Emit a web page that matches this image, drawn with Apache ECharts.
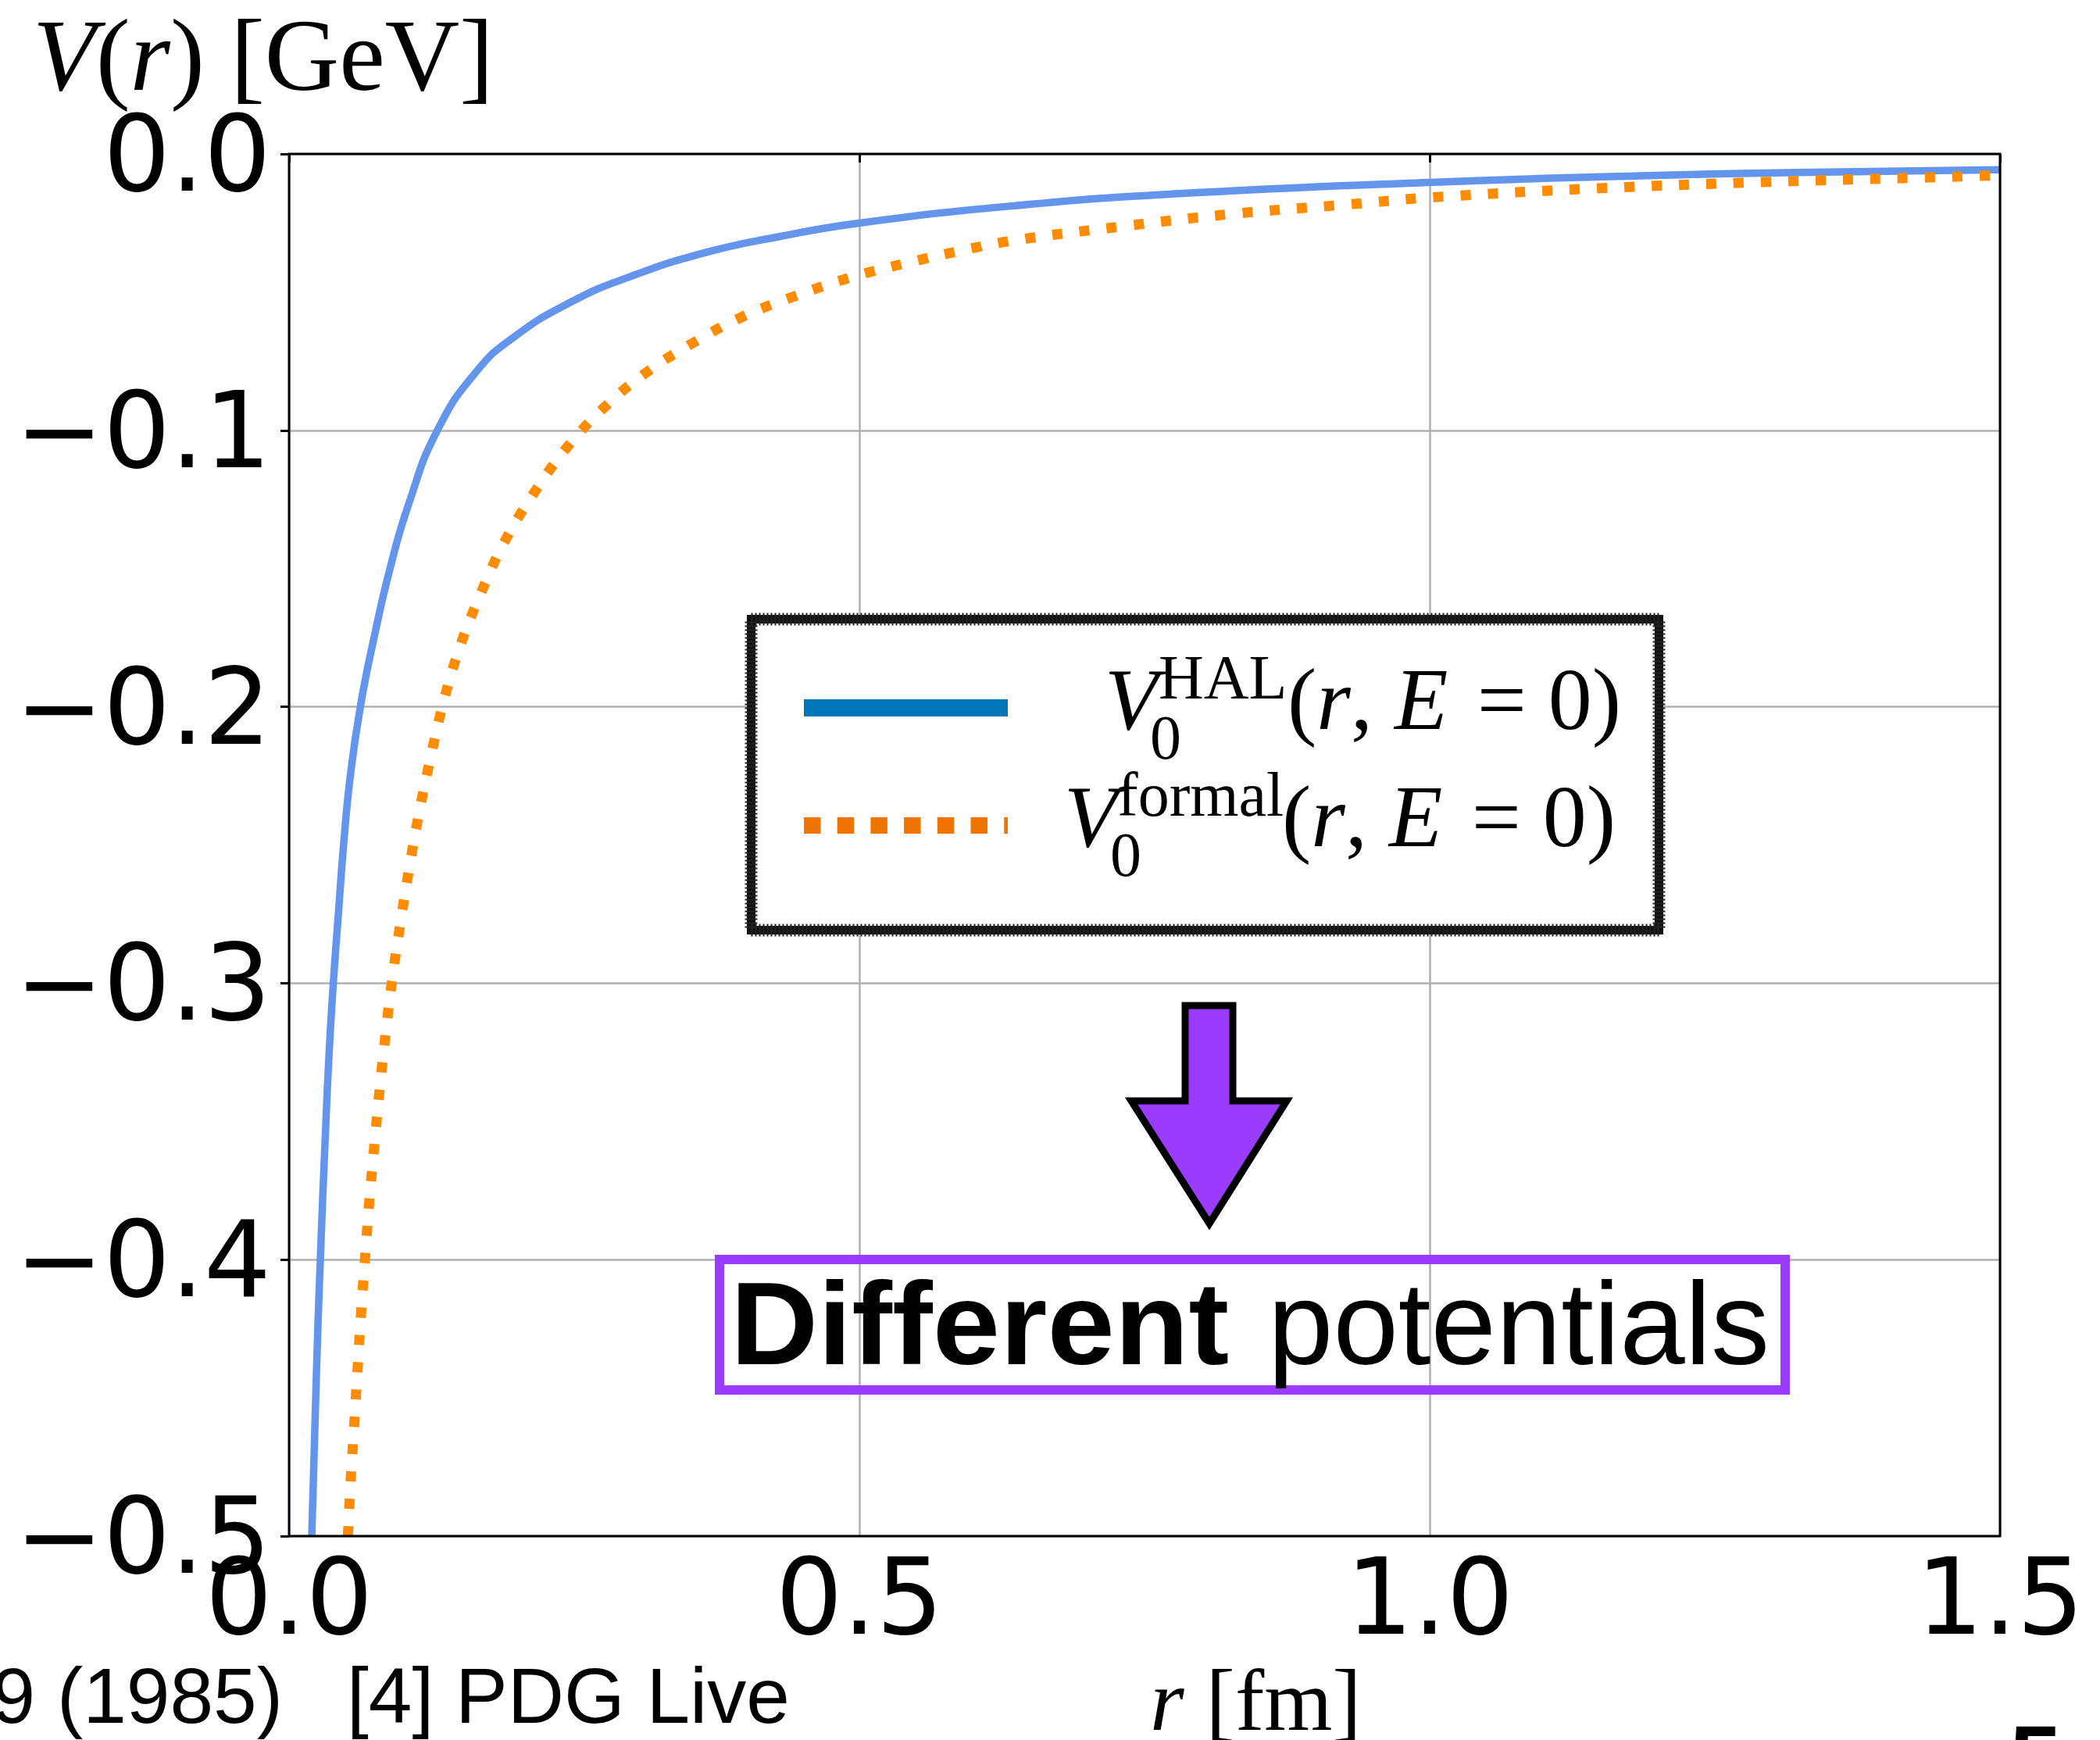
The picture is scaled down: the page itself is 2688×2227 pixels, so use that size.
<!DOCTYPE html>
<html>
<head>
<meta charset="utf-8">
<script src="https://cdn.jsdelivr.net/npm/echarts@6.0.0/dist/echarts.min.js"></script>
<style>
  html, body { margin: 0; padding: 0; background: #fff; }
  #chart { width: 2688px; height: 2227px; }
</style>
</head>
<body>
<div id="chart"></div>
<script>
// V0^HAL(r, E=0)
var hal_r = [0.0199, 0.0240, 0.0274, 0.0320, 0.0354, 0.0388, 0.0434, 0.0480, 0.0537, 0.0625,
    0.0745, 0.0885, 0.1050, 0.1300, 0.1645, 0.1977, 0.2475, 0.2970, 0.3640, 0.4300,
    0.5000, 0.6370, 0.7740, 1.0000, 1.1850, 1.3220, 1.5000];
var hal_v = [-0.500, -0.441, -0.400, -0.353, -0.323, -0.300, -0.274, -0.249, -0.225, -0.200,
    -0.175, -0.150, -0.1265, -0.100, -0.0786, -0.0661, -0.0535, -0.0447, -0.0358, -0.0299,
    -0.0250, -0.0187, -0.0145, -0.0103, -0.0079, -0.0067, -0.0057];

// V0^formal(r, E=0)
var formal_r = [0.0516, 0.0540, 0.0571, 0.0600, 0.0632, 0.0667, 0.0703, 0.0749, 0.0795, 0.0847,
    0.0906, 0.0977, 0.1055, 0.1144, 0.1244, 0.1358, 0.1500, 0.1670, 0.1880, 0.2126,
    0.2420, 0.2748, 0.3120, 0.3540, 0.3970, 0.4418, 0.4930, 0.5410, 0.5890, 0.6370,
    0.7330, 0.8290, 0.9280, 1.0020, 1.1500, 1.2980, 1.4450, 1.5000];
var formal_v = [-0.500, -0.480, -0.460, -0.440, -0.419, -0.399, -0.379, -0.358, -0.338, -0.318,
    -0.298, -0.278, -0.258, -0.2375, -0.2177, -0.1976, -0.178, -0.160, -0.141, -0.124,
    -0.107, -0.0923, -0.0794, -0.0684, -0.059, -0.0517, -0.0446, -0.0395, -0.035, -0.0312,
    -0.0261, -0.0216, -0.0183, -0.0157, -0.0124, -0.0101, -0.0084, -0.0077];

var x_ticks = [0, 1.5, 0.5];     // min, max, interval
var y_ticks = [-0.5, 0, 0.1];

function pairs(xs, ys) {
    var out = [];
    for (var i = 0; i < xs.length; i++) {
        out.push([xs[i], ys[i]]);
    }
    return out;
}

// matplotlib style tick text, with a real minus sign
var tickText = function (v) {
    if (Math.abs(v) < 1e-9) {
        return '0.0';
    }
    return v.toFixed(1).replace('-', '\u2212');
};

var serif = '"Liberation Serif", "Times New Roman", serif';
var sans = '"Liberation Sans", Arial, sans-serif';
var purple = '#9a3bfe';

function txt(x, y, text, font, extra) {
    var el = {
        type: 'text', x: x, y: y, z: 20,
        style: {
            text: text, font: font, fill: '#000',
            textAlign: 'left', align: 'left',
            textVerticalAlign: 'middle', verticalAlign: 'middle'
        }
    };
    if (extra) {
        for (var k in extra) {
            if (k === 'scaleX') {
                el.scaleX = extra[k];
            } else {
                el.style[k] = extra[k];
            }
        }
    }
    return el;
}

var axisCommon = {
    type: 'value',
    axisLine: {show: false},
    axisTick: {show: true, inside: false, length: 11, lineStyle: {color: '#000', width: 3}},
    axisLabel: {
        color: '#000',
        fontFamily: 'DejaVu Sans',
        fontSize: 135,
        showMinLabel: true,
        showMaxLabel: true,
        formatter: tickText
    },
    splitLine: {show: true, lineStyle: {color: '#b0b0b0', width: 2.5}}
};

var option = {
    animation: false,
    backgroundColor: '#fff',
    grid: {left: 370, top: 197, width: 2190, height: 1769, show: false},
    xAxis: echarts.util.merge({
        min: x_ticks[0], max: x_ticks[1], interval: x_ticks[2],
        axisLabel: {margin: 22}
    }, axisCommon),
    yAxis: echarts.util.merge({
        min: y_ticks[0], max: y_ticks[1], interval: y_ticks[2],
        axisLabel: {margin: 23, verticalAlign: 'top', lineHeight: 24}
    }, axisCommon),
    series: [
        {
            name: 'HAL',
            type: 'line',
            data: pairs(hal_r, hal_v),
            showSymbol: false,
            smooth: 0.5,
            itemStyle: {color: '#6495ED'},
            lineStyle: {color: '#6495ED', width: 9.5}
        },
        {
            name: 'formal',
            type: 'line',
            data: pairs(formal_r, formal_v),
            showSymbol: false,
            smooth: 0.4,
            itemStyle: {color: '#FF8C00'},
            lineStyle: {color: '#FF8C00', width: 13, type: [13, 22], cap: 'butt'}
        }
    ],
    graphic: [
        // plot frame
        {
            type: 'rect', z: 30,
            shape: {x: 370, y: 197, width: 2190, height: 1769},
            style: {fill: 'none', stroke: '#000', lineWidth: 3}
        },
        // axis titles
        txt(42, 80, '{i|V}({i|r}) [GeV]', '132px ' + serif, {
            rich: {i: {font: 'italic 132px ' + serif}}
        }),
        txt(1472, 2185, '{i|r} [fm]', '112px ' + serif, {
            rich: {i: {font: 'italic 112px ' + serif}}
        }),
        // slide text cut by the frame
        txt(362, 2177, '9 (1985)', '100px ' + sans, {textAlign: 'right', align: 'right'}),
        txt(444, 2177, '[4] PDG Live', '100px ' + sans),
        txt(2572, 2260, '5', 'bold 120px ' + sans),

        // legend box
        {
            type: 'rect', z: 15,
            shape: {x: 961.5, y: 792.5, width: 1162, height: 398},
            style: {fill: '#fff', stroke: '#111', lineWidth: 11}
        },
        {
            type: 'rect', z: 16,
            shape: {x: 961.5, y: 792.5, width: 1162, height: 398},
            style: {fill: 'none', stroke: '#222', lineWidth: 16, lineDash: [2, 3]}
        },
        {
            type: 'line', z: 20,
            shape: {x1: 1029, y1: 906, x2: 1290, y2: 906},
            style: {stroke: '#0076b9', lineWidth: 22, lineCap: 'butt'}
        },
        {
            type: 'line', z: 20,
            shape: {x1: 1029, y1: 1056.5, x2: 1290, y2: 1056.5},
            style: {stroke: '#f07500', lineWidth: 21, lineCap: 'butt', lineDash: [21.5, 21.2]}
        },
        txt(1414, 904, 'V', 'italic 112px ' + serif),
        txt(1483, 873, 'HAL', '80px ' + serif),
        txt(1472, 950, '0', '80px ' + serif),
        txt(1648, 904, '({i|r}, {i|E} \u200a= 0)', '112px ' + serif, {
            rich: {i: {font: 'italic 112px ' + serif}}
        }),
        txt(1362, 1054, 'V', 'italic 112px ' + serif),
        txt(1430, 1023, 'formal', '80px ' + serif),
        txt(1421, 1100, '0', '80px ' + serif),
        txt(1641, 1054, '({i|r}, {i|E} \u200a= 0)', '112px ' + serif, {
            rich: {i: {font: 'italic 112px ' + serif}}
        }),

        // arrow
        {
            type: 'polygon', z: 20,
            shape: {
                points: [[1517, 1287], [1578, 1287], [1578, 1409], [1647, 1409],
                    [1548, 1566], [1448, 1409], [1517, 1409]]
            },
            style: {fill: purple, stroke: '#000', lineWidth: 9, lineJoin: 'miter'}
        },
        // annotation box
        {
            type: 'rect', z: 20,
            shape: {x: 921, y: 1612, width: 1364, height: 167},
            style: {fill: 'none', stroke: purple, lineWidth: 12}
        },
        txt(935, 1705, 'Different', 'bold 150px ' + sans, {scaleX: 1.035}),
        txt(1623, 1705, 'potentials', '150px ' + sans)
    ]
};

var chart = echarts.init(document.getElementById('chart'));
chart.setOption(option);
</script>
</body>
</html>
